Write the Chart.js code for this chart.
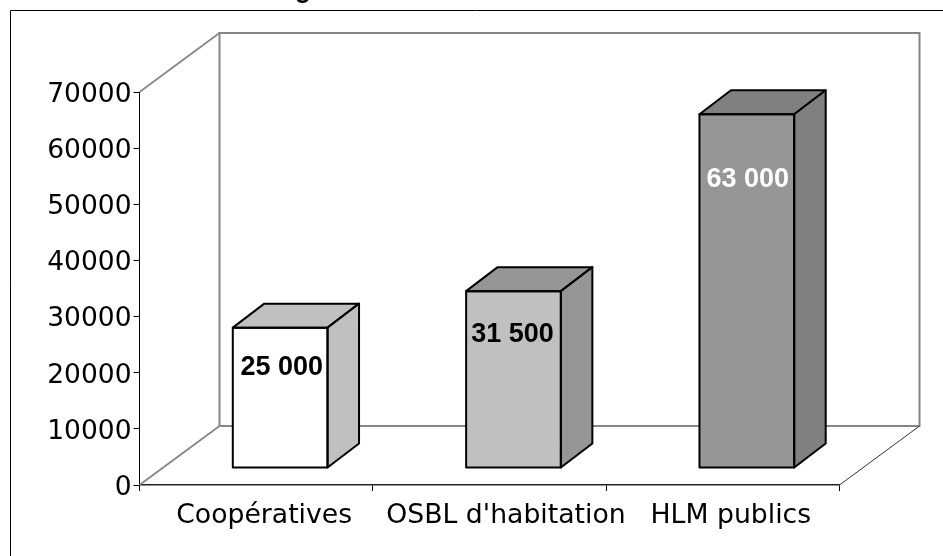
<!DOCTYPE html>
<html lang="fr">
<head>
<meta charset="utf-8">
<title>Logements</title>
<style>
    html, body { margin: 0; padding: 0; background: #fff; overflow: hidden; }
    canvas { display: block; }
</style>
</head>
<body>
<canvas id="chart" width="943" height="556"></canvas>
<script src="https://cdn.jsdelivr.net/npm/chart.js@4"></script>
<script>
const categories = ['Coopératives', "OSBL d'habitation", 'HLM publics'];
const values = [25000, 31500, 63000];
const valueLabels = ['25 000', '31 500', '63 000'];
const yTicks = [0, 10000, 20000, 30000, 40000, 50000, 60000, 70000];

const frontColors = ['#ffffff', '#c0c0c0', '#969696'];
const sideColors = ['#c0c0c0', '#969696', '#808080'];
const labelColors = ['#000000', '#000000', '#ffffff'];
const labelDrops = [40, 43, 65];
const labelShifts = [1.5, -1, 1];

// Depth of the box and of the floor, in pixels
const WALL_DX = 80, WALL_DY = -59;
const BAR_DX = 31.5, BAR_DY = -24;
const FRONT_DX = 24, FRONT_DY = -17;

function line(ctx, points, color, width) {
    ctx.beginPath();
    points.forEach((p, i) => (i ? ctx.lineTo(p[0], p[1]) : ctx.moveTo(p[0], p[1])));
    ctx.strokeStyle = color;
    ctx.lineWidth = width;
    ctx.stroke();
}

function face(ctx, points, color) {
    ctx.beginPath();
    points.forEach((p, i) => (i ? ctx.lineTo(p[0], p[1]) : ctx.moveTo(p[0], p[1])));
    ctx.closePath();
    if (color) {
        ctx.fillStyle = color;
        ctx.fill();
    }
    ctx.strokeStyle = '#000';
    ctx.lineWidth = 2;
    ctx.lineJoin = 'round';
    ctx.stroke();
}

const box3d = {
    id: 'box3d',

    beforeDraw(chart) {
        const ctx = chart.ctx;
        // Only the top and left edges of the frame are in the picture
        ctx.save();
        ctx.fillStyle = '#fff';
        ctx.fillRect(0, 0, chart.width, chart.height);
        line(ctx, [[chart.width, 10.5], [10.5, 10.5], [10.5, chart.height]], '#000', 1);
        // Title is cropped by the picture, only this descender shows
        ctx.fillStyle = '#000';
        ctx.font = 'bold 27px "Liberation Sans"';
        ctx.textAlign = 'center';
        ctx.textBaseline = 'alphabetic';
        ctx.fillText('g', 303, -3);
        ctx.restore();
    },

    beforeDatasetsDraw(chart) {
        const ctx = chart.ctx;
        const { left, right, top, bottom } = chart.chartArea;
        const backL = left + WALL_DX, backR = right + WALL_DX;
        const backT = top + WALL_DY, backB = bottom + WALL_DY;

        ctx.save();
        line(ctx, [[backL, backB], [backL, backT], [backR, backT], [backR, backB], [backL, backB]], '#868686', 2);
        line(ctx, [[left, top], [backL, backT]], '#868686', 1.75);
        line(ctx, [[left, bottom], [backL, backB]], '#868686', 1.75);
        line(ctx, [[right, bottom], [backR, backB]], '#333', 1);
        ctx.restore();

        ctx.save();
        ctx.translate(FRONT_DX, FRONT_DY);
    },

    afterDatasetsDraw(chart) {
        const ctx = chart.ctx;
        ctx.restore();

        chart.getDatasetMeta(0).data.forEach((bar, i) => {
            const x0 = bar.x - bar.width / 2 + FRONT_DX;
            const x1 = bar.x + bar.width / 2 + FRONT_DX;
            const yT = bar.y + FRONT_DY;
            const yB = bar.base + FRONT_DY;

            ctx.save();
            face(ctx, [[x0, yT], [x1, yT], [x1 + BAR_DX, yT + BAR_DY], [x0 + BAR_DX, yT + BAR_DY]], sideColors[i]);
            face(ctx, [[x1, yT], [x1 + BAR_DX, yT + BAR_DY], [x1 + BAR_DX, yB + BAR_DY], [x1, yB]], sideColors[i]);
            face(ctx, [[x0, yT], [x1, yT], [x1, yB], [x0, yB]], null);

            ctx.fillStyle = labelColors[i];
            ctx.font = 'bold 27px "Liberation Sans"';
            ctx.textAlign = 'center';
            ctx.textBaseline = 'middle';
            ctx.fillText(valueLabels[i], (x0 + x1) / 2 + labelShifts[i], yT + labelDrops[i]);
            ctx.restore();
        });
    }
};

new Chart(document.getElementById('chart'), {
    type: 'bar',
    data: {
        labels: categories,
        datasets: [{
            data: values,
            backgroundColor: frontColors,
            borderWidth: 0,
            barPercentage: 0.406,
            categoryPercentage: 1,
            clip: false
        }]
    },
    options: {
        responsive: false,
        animation: false,
        layout: { padding: { top: 92, right: 103.5 } },
        plugins: {
            legend: { display: false },
            title: { display: false },
            tooltip: { enabled: false }
        },
        scales: {
            x: {
                afterFit(axis) { axis.height = 71; },
                grid: { drawOnChartArea: false, tickLength: 6, color: '#000' },
                border: { color: '#222', width: 1.5 },
                ticks: {
                    color: '#000',
                    padding: 9,
                    labelOffset: 8,
                    maxRotation: 0,
                    autoSkip: false,
                    font: { family: '"DejaVu Sans"', size: 26.7 },
                    // the middle label sits further right than the other two
                    callback: (v, i) => (i === 1 ? '\u00a0\u00a0' : '') + categories[i]
                }
            },
            y: {
                min: 0,
                max: 70000,
                afterFit(axis) { axis.width = 139.5; },
                afterBuildTicks(axis) { axis.ticks = yTicks.map(v => ({ value: v })); },
                grid: { drawOnChartArea: false, tickLength: 6, color: '#000' },
                border: { color: '#000', width: 1 },
                ticks: {
                    color: '#000',
                    padding: 2,
                    labelOffset: 3,
                    font: { family: '"DejaVu Sans"', size: 26.5 },
                    callback: v => String(v)
                }
            }
        }
    },
    plugins: [box3d]
});
</script>
</body>
</html>
